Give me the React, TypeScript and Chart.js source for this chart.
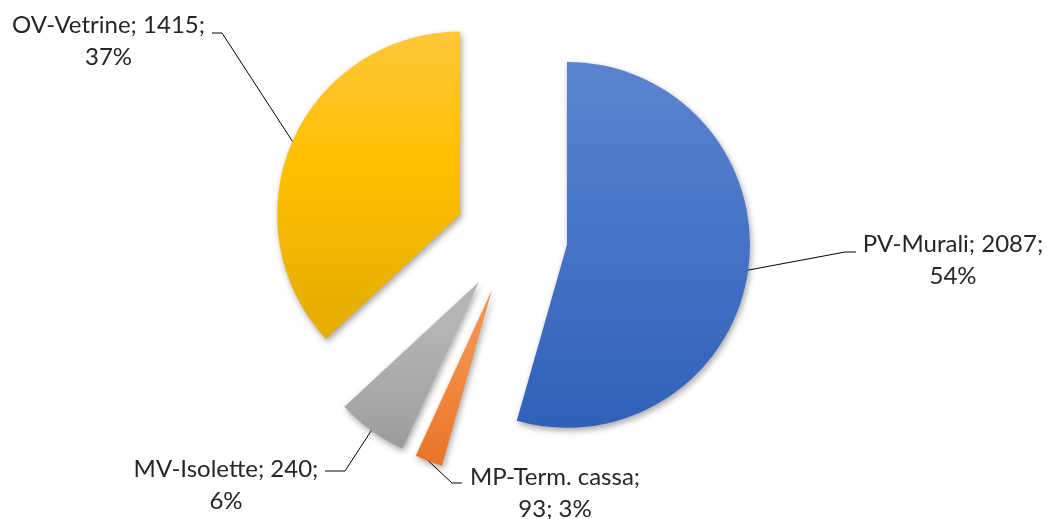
import React, { useEffect, useRef } from 'react';
import { Chart, registerables, ArcElement } from 'chart.js';

Chart.register(...registerables);

// ---- data ----
const categories = ['PV-Murali', 'MP-Term. cassa', 'MV-Isolette', 'OV-Vetrine'];
const values = [2087, 93, 240, 1415];

// ---- styles ----
const baseColors = ['#4472c4', '#ed7d31', '#a5a5a5', '#ffc000'];
const topColors = ['#5b84cf', '#f5914a', '#b4b4b4', '#ffc845'];
const bottomColors = ['#2f60b9', '#dc6815', '#8e8e8e', '#e6ae00'];
const EXPLODE = 56;
const RADIUS = 183;
const FONT = '24px Lato, "Open Sans", sans-serif';
const TEXT_COLOR = '#262626';
const LINE_GAP = 32;

// label placement: text centre x, first baseline y, leader elbow & end, words on line 1
const labelLayout = [
  { x: 953, y: 252, elbow: [845, 252], end: [856, 252], split: 2 },
  { x: 555, y: 485, elbow: [452, 483], end: [462, 483], split: 1 },
  { x: 226, y: 477, elbow: [345, 471], end: [325, 471], split: 2 },
  { x: 108.5, y: 33, elbow: [222, 33], end: [212, 33], split: 2 },
];

// Excel-like percentages (largest remainder, sums to 100)
function percentLabels(vals: number[]): number[] {
  const total = vals.reduce((a, b) => a + b, 0);
  const raw = vals.map((v) => (v / total) * 100);
  const floors = raw.map((r) => Math.floor(r));
  let rest = 100 - floors.reduce((a, b) => a + b, 0);
  const order = raw.map((r, i) => ({ i, f: r - Math.floor(r) })).sort((a, b) => b.f - a.f);
  for (let k = 0; k < rest; k++) floors[order[k].i] += 1;
  return floors;
}

class ExplodedArc extends ArcElement {
  static id = 'explodedArc';
  draw(ctx: CanvasRenderingContext2D) {
    const self = this as any;
    const half = (self.startAngle + self.endAngle) / 2;
    ctx.save();
    ctx.translate(Math.cos(half) * EXPLODE, Math.sin(half) * EXPLODE);
    super.draw(ctx);
    ctx.restore();
  }
}
Chart.register(ExplodedArc as any);
(Chart.defaults as any).datasets.pie.dataElementType = 'explodedArc';

function sliceYRange(i: number, cy: number): [number, number] {
  const total = values.reduce((a, b) => a + b, 0);
  let cum = 0;
  for (let k = 0; k < i; k++) cum += values[k];
  const start = -Math.PI / 2 + (2 * Math.PI * cum) / total;
  const end = start + (2 * Math.PI * values[i]) / total;
  const half = (start + end) / 2;
  const yc = cy + Math.sin(half) * EXPLODE;
  const ys = [yc, yc + RADIUS * Math.sin(start), yc + RADIUS * Math.sin(end)];
  if (start <= Math.PI / 2 && end >= Math.PI / 2) ys.push(yc + RADIUS);
  return [Math.min(...ys), Math.max(...ys)];
}

const piePlugin = {
  id: 'pieDecor',
  beforeDatasetsDraw(chart: any) {
    const ctx = chart.ctx;
    ctx.save();
    ctx.shadowColor = 'rgba(0,0,0,0.35)';
    ctx.shadowBlur = 6;
    ctx.shadowOffsetX = 1.5;
    ctx.shadowOffsetY = 3;
  },
  afterDatasetsDraw(chart: any) {
    chart.ctx.restore();
  },
  afterDraw(chart: any) {
    const ctx = chart.ctx;
    const meta = chart.getDatasetMeta(0);
    const pcts = percentLabels(values);
    ctx.save();
    meta.data.forEach((el: any, i: number) => {
      const { x, y, startAngle, endAngle, outerRadius } = el.getProps(
        ['x', 'y', 'startAngle', 'endAngle', 'outerRadius'],
        true
      );
      const half = (startAngle + endAngle) / 2;
      const sx = x + Math.cos(half) * (EXPLODE + outerRadius);
      const sy = y + Math.sin(half) * (EXPLODE + outerRadius);
      const L = labelLayout[i];
      ctx.beginPath();
      ctx.strokeStyle = '#000000';
      ctx.lineWidth = 1;
      ctx.moveTo(sx, sy);
      ctx.lineTo(L.elbow[0], L.elbow[1]);
      ctx.lineTo(L.end[0], L.end[1]);
      ctx.stroke();

      const parts = [categories[i] + ';', values[i] + ';', pcts[i] + '%'];
      const line1 = parts.slice(0, L.split).join(' ');
      const line2 = parts.slice(L.split).join(' ');
      ctx.font = FONT;
      ctx.fillStyle = TEXT_COLOR;
      ctx.textAlign = 'center';
      ctx.textBaseline = 'alphabetic';
      ctx.fillText(line1, L.x, L.y);
      ctx.fillText(line2, L.x, L.y + LINE_GAP);
    });
    ctx.restore();
  },
};

export default function App() {
  const ref = useRef<HTMLCanvasElement | null>(null);
  useEffect(() => {
    if (!ref.current) return;
    const chart = new Chart(ref.current, {
      type: 'pie',
      data: {
        labels: categories,
        datasets: [
          {
            data: values,
            borderWidth: 0,
            backgroundColor: (c: any) => {
              const i = c.dataIndex ?? 0;
              const area = c.chart.chartArea;
              if (c.type !== 'data' || !area) return baseColors[i];
              const cy = (area.top + area.bottom) / 2;
              const [y0, y1] = sliceYRange(i, cy);
              const g = c.chart.ctx.createLinearGradient(0, y0, 0, y1);
              g.addColorStop(0, topColors[i]);
              g.addColorStop(0.5, baseColors[i]);
              g.addColorStop(1, bottomColors[i]);
              return g;
            },
          } as any,
        ],
      },
      options: {
        animation: false,
        responsive: false,
        devicePixelRatio: 1,
        radius: RADIUS,
        layout: { padding: { left: 0, right: 24, top: 0, bottom: 45 } },
        plugins: {
          legend: { display: false },
          tooltip: { enabled: false },
        },
      } as any,
      plugins: [piePlugin],
    });
    return () => chart.destroy();
  }, []);
  return (
    <div style={{ position: 'absolute', left: 0, top: 0, width: 1047, height: 519 }}>
      <canvas ref={ref} width={1047} height={519} />
    </div>
  );
}
